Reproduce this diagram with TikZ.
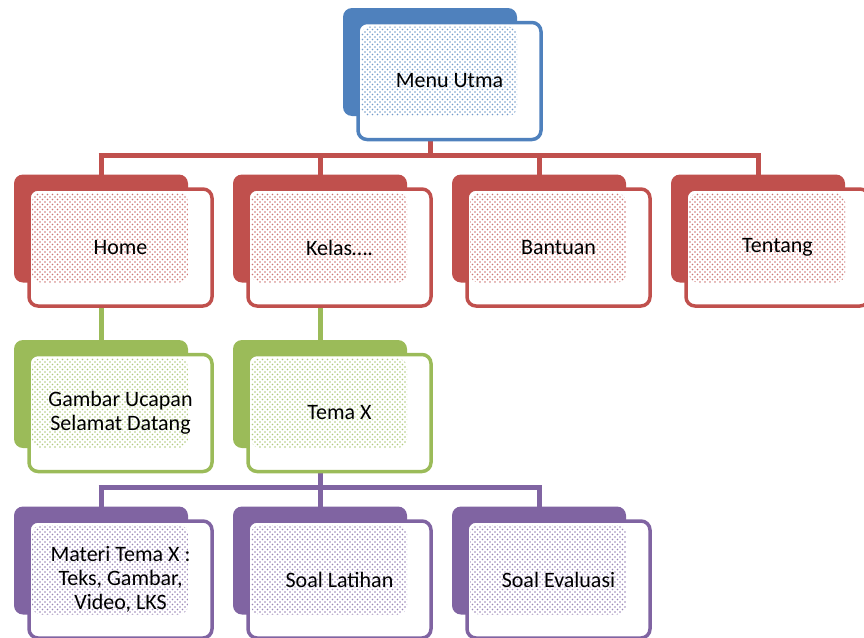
\documentclass[tikz,border=0pt]{standalone}
\usepackage{fontspec}
\setmainfont{Carlito}
\usetikzlibrary{patterns}
\definecolor{cblue}{HTML}{4F81BD}
\definecolor{cred}{HTML}{C0504D}
\definecolor{cgreen}{HTML}{9BBB59}
\definecolor{cpurple}{HTML}{8064A2}
\pgfdeclarepatternformonly{smartdots}{\pgfqpoint{-1pt}{-1pt}}{\pgfqpoint{6pt}{6pt}}{\pgfqpoint{5pt}{5pt}}{%
  \pgfpathcircle{\pgfqpoint{0pt}{0pt}}{.9pt}%
  \pgfpathcircle{\pgfqpoint{2.5pt}{2.5pt}}{.9pt}%
  \pgfusepath{fill}}
\pgfdeclarelayer{bg}
\pgfsetlayers{bg,main}
\tikzset{
  backbox/.style={anchor=north west, minimum width=174pt, minimum height=108pt,
    rounded corners=9pt, inner sep=0pt, outer sep=0pt},
  frontbox/.style={anchor=north west, minimum width=183pt, minimum height=117pt,
    rounded corners=9pt, line width=3.5pt, fill=white, align=center,
    font=\fontsize{22pt}{24pt}\selectfont, inner sep=2pt, outer sep=0pt},
  conn/.style={line width=5pt}
}
\newcommand\mkbox[5]{%
  \node[backbox, fill=#4] (#1B) at (#2,#3) {};
  \node[frontbox, draw=#4, path picture={\fill[pattern=smartdots, pattern color=#4!80]
      ([shift={(3pt,-4pt)}]path picture bounding box.north west) rectangle (#1B.south east);}]
    (#1) at ([shift={(15pt,-14.5pt)}]#1B.north west) {#5};
}
\begin{document}
\begin{tikzpicture}[x=1pt,y=-1pt]
\useasboundingbox (0,0) rectangle (864,637);
\mkbox{menu}{343}{8}{cblue}{Menu Utma}
\mkbox{home}{14}{174.5}{cred}{Home}
\mkbox{kelas}{233}{174.5}{cred}{Kelas….}
\mkbox{bantuan}{452}{174.5}{cred}{Bantuan}
\mkbox{tentang}{671}{174.5}{cred}{Tentang}
\mkbox{gambar}{14}{340}{cgreen}{Gambar Ucapan\\Selamat Datang}
\mkbox{tema}{233}{340}{cgreen}{Tema X}
\mkbox{materi}{14}{506.5}{cpurple}{Materi Tema X :\\Teks, Gambar,\\Video, LKS}
\mkbox{latihan}{233}{506.5}{cpurple}{Soal Latihan}
\mkbox{evaluasi}{452}{506.5}{cpurple}{Soal Evaluasi}
\coordinate (bus1) at (0,155);
\coordinate (bus2) at (0,487);
\begin{pgfonlayer}{bg}
  \draw[conn, cred] (menuB.center) -- (menuB.center |- bus1);
  \draw[conn, cred] ([xshift=-2.5pt]homeB.north |- bus1) -- ([xshift=2.5pt]tentangB.north |- bus1);
  \draw[conn, cred] (homeB.north |- bus1) -- (homeB.north);
  \draw[conn, cred] (kelasB.north |- bus1) -- (kelasB.north);
  \draw[conn, cred] (bantuanB.north |- bus1) -- (bantuanB.north);
  \draw[conn, cred] (tentangB.north |- bus1) -- (tentangB.north);
  \draw[conn, cgreen] (homeB.center) -- (gambarB.north);
  \draw[conn, cgreen] (kelasB.center) -- (temaB.north);
  \draw[conn, cpurple] (temaB.center) -- (temaB.center |- bus2);
  \draw[conn, cpurple] ([xshift=-2.5pt]materiB.north |- bus2) -- ([xshift=2.5pt]evaluasiB.north |- bus2);
  \draw[conn, cpurple] (materiB.north |- bus2) -- (materiB.north);
  \draw[conn, cpurple] (latihanB.north |- bus2) -- (latihanB.north);
  \draw[conn, cpurple] (evaluasiB.north |- bus2) -- (evaluasiB.north);
\end{pgfonlayer}
\end{tikzpicture}
\end{document}
